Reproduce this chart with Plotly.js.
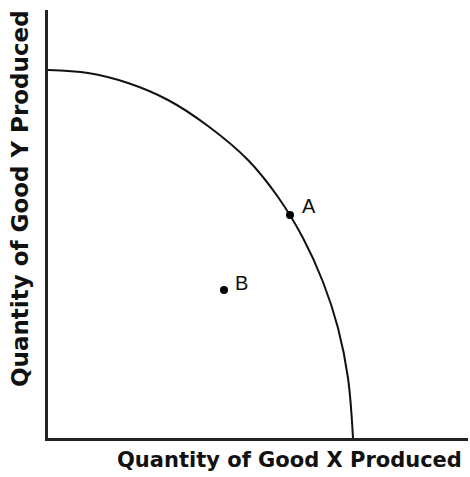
<!DOCTYPE html>
<html>
<head>
<meta charset="utf-8">
<script src="https://cdn.plot.ly/plotly-3.0.1.min.js"></script>
<style>html,body{margin:0;padding:0;background:#fff;}#chart{width:470px;height:477px;}</style>
</head>
<body>
<div id="chart"></div>
<script>
// Production possibilities frontier (arbitrary units)
const curveX = [0, 40, 80, 120, 160, 200, 230, 255, 275, 290, 300, 305];
const curveY = [368, 365, 355, 338, 312, 278, 241, 200, 156, 110, 60, 0];
const pointLabels = ["A", "B"];
const pointX = [242, 176];
const pointY = [223, 148];
const xTitle = "Quantity of Good X Produced";
const yTitle = "Quantity of Good Y Produced";

const traces = [
  {x: curveX, y: curveY, mode: "lines", line: {color: "#111", width: 2, shape: "spline", smoothing: 1}, hoverinfo: "skip"},
  {x: pointX, y: pointY, mode: "markers", marker: {color: "#000", size: 8}, hoverinfo: "skip"}
];

const labelShift = [[10, 9], [9, 7]];
const annotations = pointLabels.map((t, i) => ({
  x: pointX[i], y: pointY[i], xref: "x", yref: "y", text: t, showarrow: false,
  xanchor: "left", yanchor: "middle", xshift: labelShift[i][0], yshift: labelShift[i][1],
  font: {family: "Liberation Sans, Arial, sans-serif", size: 20, color: "#111"}
}));
annotations.push({
  xref: "paper", yref: "paper", x: 0.576, y: -0.0514, xanchor: "center", yanchor: "middle",
  text: xTitle, showarrow: false,
  font: {family: "DejaVu Sans", size: 21, color: "#111", weight: "bold"}
});
annotations.push({
  xref: "paper", yref: "paper", x: -0.0667, y: 0.5607, xanchor: "center", yanchor: "middle",
  text: yTitle, showarrow: false, textangle: -90,
  font: {family: "DejaVu Sans", size: 23, color: "#111", weight: "bold"}
});

const layout = {
  width: 470, height: 477,
  margin: {l: 48, r: 2, t: 10, b: 39},
  paper_bgcolor: "#fff", plot_bgcolor: "#fff",
  showlegend: false,
  xaxis: {range: [0, 420], showline: true, linewidth: 3, linecolor: "#222", showgrid: false, zeroline: false,
          showticklabels: false, ticks: "", automargin: false, fixedrange: true},
  yaxis: {range: [0, 428], showline: true, linewidth: 3, linecolor: "#222", showgrid: false, zeroline: false,
          showticklabels: false, ticks: "", automargin: false, fixedrange: true},
  annotations: annotations
};

Plotly.newPlot("chart", traces, layout, {displayModeBar: false, staticPlot: true});
</script>
</body>
</html>
